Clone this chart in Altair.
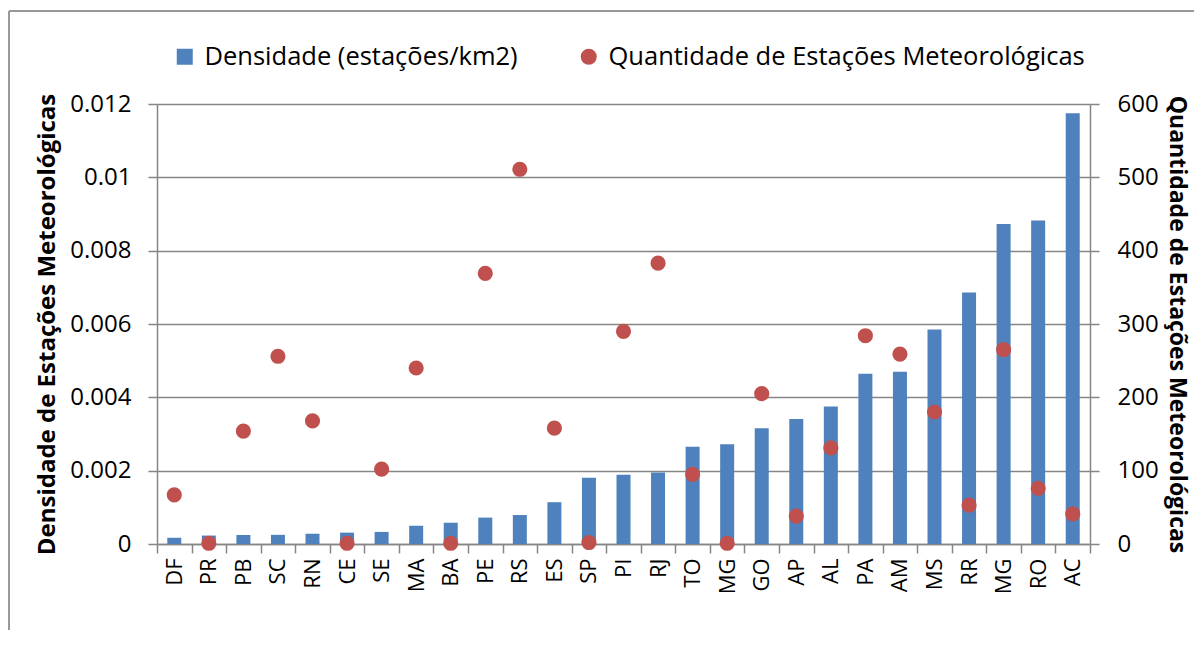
import altair as alt
import pandas as pd

states = ["DF", "PR", "PB", "SC", "RN", "CE", "SE", "MA", "BA", "PE", "RS", "ES", "SP", "PI",
          "RJ", "TO", "MG", "GO", "AP", "AL", "PA", "AM", "MS", "RR", "MG", "RO", "AC"]
density = [0.00017, 0.00023, 0.000245, 0.00025, 0.00028, 0.00031, 0.00033, 0.0005, 0.00058,
           0.00072, 0.00079, 0.00114, 0.00181, 0.00189, 0.00195, 0.00265, 0.00272, 0.00316,
           0.00341, 0.00375, 0.00464, 0.0047, 0.00585, 0.00686, 0.00873, 0.00882, 0.01175]
count = [67, 1, 154, 256, 168, 1, 102, 240, 1, 369, 511, 158, 2, 290, 383, 95, 1, 205,
         38, 131, 284, 259, 180, 53, 265, 76, 41]
left_ticks = [0, 0.002, 0.004, 0.006, 0.008, 0.01, 0.012]
right_ticks = [0, 100, 200, 300, 400, 500, 600]

S1 = "Densidade (estações/km2)"
S2 = "Quantidade de Estações Meteorológicas"

df = pd.DataFrame({
    "pos": list(range(len(states))),
    "uf": states,
    "dens": density,
    "qtd": count,
    "s1": [S1] * len(states),
    "s2": [S2] * len(states),
})

FONT = "Open Sans"
GRAY = "#868686"
label_expr = "[" + ",".join("'%s'" % s for s in states) + "][datum.value]"


def legend(xpos):
    return alt.Legend(orient="none", legendX=xpos, legendY=-60, title=None,
                      symbolSize=256, labelFontSize=25.5, labelFont=FONT, labelColor="black",
                      labelOffset=7, padding=0, labelLimit=700, symbolStrokeWidth=0)


x = alt.X("pos:O", scale=alt.Scale(paddingInner=0, paddingOuter=0),
          axis=alt.Axis(title=None, labelExpr=label_expr, labelAngle=270, labelFontSize=22,
                        labelPadding=5, tickBand="extent", tickSize=9, tickColor=GRAY,
                        tickWidth=1.5, domainColor=GRAY, domainWidth=1.5, labelColor="black",
                        labelFont=FONT))

bars = alt.Chart(df).mark_bar(size=14).encode(
    x=x,
    y=alt.Y("dens:Q", scale=alt.Scale(domain=[0, 0.012], nice=False),
            axis=alt.Axis(title="Densidade de Estações Meteorológicas", values=left_ticks,
                          format="~g", grid=True, gridColor=GRAY, gridWidth=1.5,
                          tickSize=9, tickColor=GRAY, tickWidth=1.5, domainColor=GRAY,
                          domainWidth=1.5, labelFontSize=24, labelPadding=17,
                          titleFontSize=24, titleFontWeight="bold", titlePadding=10,
                          labelColor="black", titleColor="black", labelFont=FONT,
                          titleFont=FONT)),
    color=alt.Color("s1:N", scale=alt.Scale(domain=[S1], range=["#4F81BD"]),
                    legend=legend(15)),
)

points = alt.Chart(df).mark_circle(size=230, opacity=1).encode(
    x=x,
    y=alt.Y("qtd:Q", scale=alt.Scale(domain=[0, 600], nice=False),
            axis=alt.Axis(title="Quantidade de Estações Meteorológicas", orient="right",
                          values=right_ticks, grid=False, tickSize=9, tickColor=GRAY,
                          tickWidth=1.5, domainColor=GRAY, domainWidth=1.5,
                          labelFontSize=24, labelPadding=18, titleFontSize=23,
                          titleFontWeight="bold", titlePadding=6, labelColor="black",
                          titleColor="black", labelFont=FONT, titleFont=FONT)),
    color=alt.Color("s2:N", scale=alt.Scale(domain=[S2], range=["#C0504D"]),
                    legend=legend(419)),
)

frame_top = alt.Chart(df).mark_rule(color="#999999", strokeWidth=2).encode(
    x=alt.value(-148), x2=alt.value(1040), y=alt.value(-93))
frame_left = alt.Chart(df).mark_rule(color="#999999", strokeWidth=2).encode(
    x=alt.value(-148), y=alt.value(-93), y2=alt.value(540))

chart = alt.layer(frame_top, frame_left, bars, points).resolve_scale(
    y="independent", color="independent"
).properties(
    width=933, height=440,
    autosize=alt.AutoSizeParams(type="none"),
    padding={"left": 149, "top": 96, "right": 104, "bottom": 86},
).configure_view(strokeWidth=0).configure(font=FONT)

chart.save("out.html", embed_options={"renderer": "svg", "actions": False})
